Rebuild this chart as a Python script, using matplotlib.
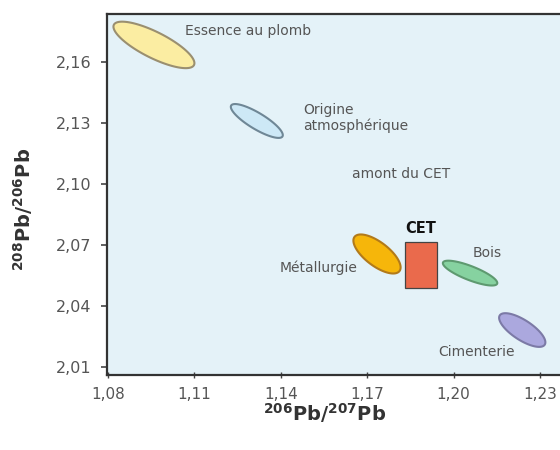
import numpy as np
import matplotlib
matplotlib.use('Agg')
import matplotlib.pyplot as plt
from matplotlib.patches import Polygon, Rectangle
from matplotlib.ticker import FuncFormatter

# Source fields: centre, major half-axis vector (data units), minor/major ratio
sources = ['Essence au plomb', 'Origine atmosphérique', 'Métallurgie', 'Bois', 'Cimenterie']
center_x = [1.0960, 1.1317, 1.1734, 1.2057, 1.2238]
center_y = [2.1684, 2.1310, 2.0656, 2.0562, 2.0282]
major_dx = [0.0139, 0.0089, 0.0078, 0.0094, 0.0078]
major_dy = [-0.0099, -0.0076, -0.0084, -0.0052, -0.0072]
axis_ratio = [0.29, 0.27, 0.42, 0.24, 0.37]

fill_colors = ['#fbeda2', '#cde8f6', '#f6b60a', '#86d2a0', '#aba8de']
edge_colors = ['#9a8f70', '#6f8796', '#b27a1a', '#5e9a70', '#7c7aa6']

# CET sample range
cet_x = [1.1831, 1.1942]
cet_y = [2.0488, 2.0715]

xticks = [1.08, 1.11, 1.14, 1.17, 1.20, 1.23]
yticks = [2.01, 2.04, 2.07, 2.10, 2.13, 2.16]

fig = plt.figure(figsize=(5.6, 4.5), dpi=100)
ax = fig.add_axes([0.191, 0.1667, 0.809, 0.8022])
ax.set_facecolor('#e4f2f8')
ax.set_xlim(1.0797, 1.2369)
ax.set_ylim(2.0061, 2.1836)

comma = FuncFormatter(lambda v, p: f'{v:.2f}'.replace('.', ','))
ax.set_xticks(xticks)
ax.set_yticks(yticks)
ax.xaxis.set_major_formatter(comma)
ax.yaxis.set_major_formatter(comma)
ax.tick_params(axis='both', colors='#444444', labelcolor='#555555')
ax.tick_params(axis='y', direction='out', length=4, width=1.2, pad=7, labelsize=11.5)
ax.tick_params(axis='x', direction='inout', length=5, width=1.0, pad=6, labelsize=11)

for side in ['left', 'bottom', 'top']:
    ax.spines[side].set_color('#333333')
    ax.spines[side].set_linewidth(1.6)
ax.spines['right'].set_visible(False)

# ellipses are built in display space so the minor axis stays perpendicular
fig.canvas.draw()
t = np.linspace(0, 2 * np.pi, 200)
to_disp = ax.transData
to_data = ax.transData.inverted()
for cx, cy, dx, dy, r, fc, ec in zip(center_x, center_y, major_dx, major_dy,
                                     axis_ratio, fill_colors, edge_colors):
    c = to_disp.transform((cx, cy))
    e = to_disp.transform((cx + dx, cy + dy)) - c
    m = np.array([-e[1], e[0]]) * r
    pts = c + np.outer(np.cos(t), e) + np.outer(np.sin(t), m)
    ax.add_patch(Polygon(to_data.transform(pts), closed=True, facecolor=fc,
                         edgecolor=ec, linewidth=1.5, zorder=3))

ax.add_patch(Rectangle((cet_x[0], cet_y[0]), cet_x[1] - cet_x[0], cet_y[1] - cet_y[0],
                       facecolor='#ea6a4c', edgecolor='#444444', linewidth=0.9, zorder=3))

lab = dict(fontsize=10, color='#555555', zorder=4)
ax.text(1.1067, 2.1752, 'Essence au plomb', ha='left', va='center', **lab)
ax.text(1.1477, 2.1325, 'Origine\natmosphérique', ha='left', va='center',
        linespacing=1.15, **lab)
ax.text(1.1647, 2.1049, 'amont du CET', ha='left', va='center', **lab)
ax.text(1.1665, 2.0587, 'Métallurgie', ha='right', va='center', **lab)
ax.text(1.2116, 2.0660, 'Bois', ha='center', va='center', **lab)
ax.text(1.1946, 2.0173, 'Cimenterie', ha='left', va='center', **lab)
ax.text(1.1887, 2.0783, 'CET', ha='center', va='center', fontsize=10.5,
        fontweight='bold', color='#111111', zorder=4)

plt.rcParams['mathtext.default'] = 'bf'
fig.text(0.58, 0.082, r'$^{206}$Pb/$^{207}$Pb', ha='center', va='center',
         fontsize=14, fontweight='bold', color='#333333')
fig.text(0.042, 0.535, r'$^{208}$Pb/$^{206}$Pb', ha='center', va='center',
         rotation=90, fontsize=14, fontweight='bold', color='#333333')

fig.savefig('out.png', dpi=100)
